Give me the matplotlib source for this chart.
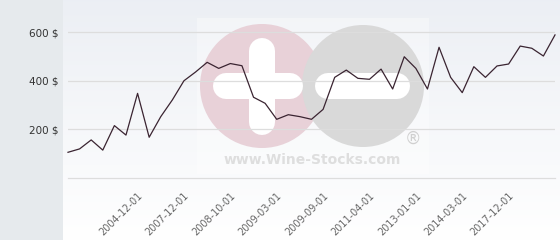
import matplotlib
matplotlib.use("Agg")
import matplotlib.pyplot as plt
from matplotlib.patches import Circle, Rectangle
import numpy as np

# price per bottle (43 points)
prices = [106, 120, 157, 115, 216, 177, 349, 168, 253, 322,
          401, 437, 477, 452, 472, 463, 333, 308, 242, 261,
          253, 242, 283, 415, 445, 411, 407, 449, 367, 500,
          452, 367, 539, 415, 352, 459, 415, 462, 470, 544,
          535, 503, 590]
tick_labels = ["2004-12-01", "2007-12-01", "2008-10-01", "2009-03-01",
               "2009-09-01", "2011-04-01", "2013-01-01", "2014-03-01",
               "2017-12-01"]
y_ticks = [200, 400, 600]

W, H = 560, 240
fig = plt.figure(figsize=(5.6, 2.4), dpi=100)
fig.patch.set_facecolor("#e6eaed")

# plot background with soft vertical gradient
bg = fig.add_axes([63 / W, 0, 1 - 63 / W, 1])
grad = np.linspace(0, 1, 256).reshape(-1, 1)
top = np.array([0.925, 0.937, 0.957])
bot = np.array([1.0, 1.0, 1.0])
img = top + (bot - top) * grad[:, :, None]
bg.imshow(img, aspect="auto", extent=[0, 1, 0, 1], origin="upper")
bg.axis("off")

# watermark, drawn in pixel coordinates
wm = fig.add_axes([0, 0, 1, 1])
wm.set_xlim(0, W)
wm.set_ylim(H, 0)
wm.axis("off")
wm.add_patch(Rectangle((197, 18), 232, 156, color="white", alpha=0.35, lw=0))
wm.add_patch(Circle((262, 86), 62, color="#e8d1d8", lw=0))
wm.add_patch(Circle((363, 86), 61, color="#d9d9d9", lw=0))
bar_w = 26 * 0.72  # px -> pt
wm.plot([261.5, 261.5], [51, 122], color="white", lw=bar_w, solid_capstyle="round")
wm.plot([226, 290], [85.5, 85.5], color="white", lw=bar_w, solid_capstyle="round")
wm.plot([328, 397], [86, 86], color="white", lw=bar_w, solid_capstyle="round")
wm.text(413, 139, "\u00ae", fontsize=12, color="#d0d0d0", ha="center", va="center")
wm.text(312, 160, "www.Wine-Stocks.com", fontsize=10, fontweight="bold",
        color="#dedede", ha="center", va="center")

ax = fig.add_axes([68 / W, (H - 178) / H, (555 - 68) / W, 178 / H])
ax.patch.set_alpha(0)
x = np.arange(len(prices))
ax.plot(x, prices, color="#3a2431", lw=0.9, clip_on=False, zorder=3)
ax.set_xlim(0, len(prices) - 1)
ax.set_ylim(0, 734)

ax.set_yticks(y_ticks)
ax.set_yticklabels(["%d $" % v for v in y_ticks], fontsize=7.5, color="#333333")
ax.grid(axis="y", color="#dddddd", lw=0.9)
ax.set_xticks(range(6, 39, 4))
ax.set_xticklabels(tick_labels, rotation=45, ha="right", rotation_mode="anchor",
                   fontsize=7, color="#666666")
ax.tick_params(length=0, axis="y", pad=7)
ax.tick_params(length=0, axis="x", pad=9)
for s in ["top", "right", "left"]:
    ax.spines[s].set_visible(False)
ax.spines["bottom"].set_color("#dddddd")
ax.spines["bottom"].set_linewidth(0.9)

fig.savefig("out.png", dpi=100, facecolor=fig.get_facecolor())
